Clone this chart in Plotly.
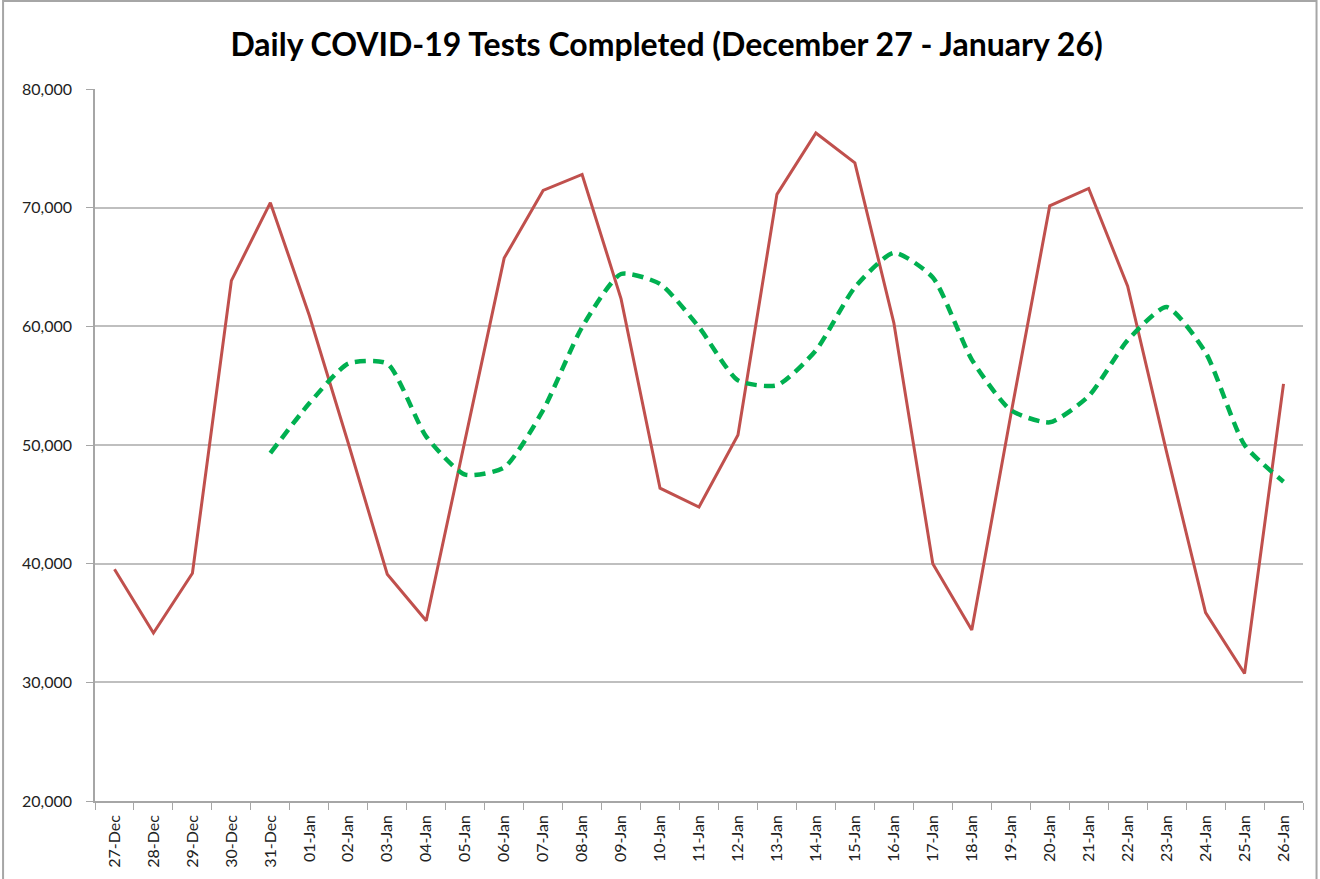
import plotly.graph_objects as go

dates = ["27-Dec", "28-Dec", "29-Dec", "30-Dec", "31-Dec",
         "01-Jan", "02-Jan", "03-Jan", "04-Jan", "05-Jan", "06-Jan", "07-Jan", "08-Jan",
         "09-Jan", "10-Jan", "11-Jan", "12-Jan", "13-Jan", "14-Jan", "15-Jan", "16-Jan",
         "17-Jan", "18-Jan", "19-Jan", "20-Jan", "21-Jan", "22-Jan", "23-Jan", "24-Jan",
         "25-Jan", "26-Jan"]

daily_tests = [39530, 34160, 39190, 63850, 70420,
               60910, 50150, 39110, 35190, 50500, 65750, 71450, 72800,
               62310, 46360, 44770, 50840, 71120, 76290, 73780, 60300,
               40000, 34410, 52500, 70150, 71620, 63380, 49400, 35880,
               30740, 55150]

avg_dates = dates[4:]
seven_day_avg = [49310,
                 53510, 56860, 56860, 50710, 47500, 48100, 52940, 59930,
                 64410, 63570, 59930, 55450, 55030, 57970, 63290, 66200,
                 64120, 57200, 52940, 51910, 54120, 58820, 61620, 57800,
                 50000, 46910]

y_ticks = [20000, 30000, 40000, 50000, 60000, 70000, 80000]

fig = go.Figure()
fig.add_trace(go.Scatter(
    x=dates, y=daily_tests, mode="lines",
    line=dict(color="#C0504D", width=3),
    name="Daily Tests", hoverinfo="x+y"))
fig.add_trace(go.Scatter(
    x=avg_dates, y=seven_day_avg, mode="lines",
    line=dict(color="#00B050", width=4.5, dash="11px,7px", shape="spline", smoothing=0.6),
    name="7-Day Average", hoverinfo="x+y"))

fig.update_layout(
    width=1320, height=879,
    paper_bgcolor="white", plot_bgcolor="white",
    margin=dict(l=95, r=16.5, t=89, b=78),
    showlegend=False,
    title=dict(text="<b>Daily COVID-19 Tests Completed (December 27 - January 26)</b>",
               xref="container", x=0.505, xanchor="center",
               yref="container", y=0.949, yanchor="middle",
               font=dict(family="Lato, Open Sans, sans-serif", size=32, color="#000000")),
    font=dict(family="Lato, Open Sans, sans-serif", color="#333333"),
    shapes=[dict(type="rect", xref="paper", yref="paper",
                 x0=-0.0761, x1=1.0112, y0=-0.13, y1=1.1236,
                 line=dict(color="#A6A6A6", width=2), layer="below")],
)

fig.update_xaxes(
    type="category", categoryorder="array", categoryarray=dates,
    range=[-0.5, len(dates) - 0.5],
    tickangle=-90, tickfont=dict(size=16, color="#222222"),
    showline=True, linecolor="#A6A6A6", linewidth=1.5,
    ticks="outside", tickson="boundaries", ticklen=7, tickcolor="#A6A6A6",
    ticklabelstandoff=6,
    showgrid=False, zeroline=False,
)
fig.update_yaxes(
    range=[20000, 80000], tickvals=y_ticks,
    tickformat=",d", tickfont=dict(size=16, color="#222222"),
    showline=True, linecolor="#A6A6A6", linewidth=1.5,
    ticks="outside", ticklen=7, tickcolor="#A6A6A6",
    ticklabelstandoff=11,
    showgrid=True, gridcolor="#BFBFBF", gridwidth=1.5, zeroline=False,
)

fig.write_html("out.html", config={"displayModeBar": False},
               post_script="document.body.style.margin='0';document.body.style.overflow='hidden';")
